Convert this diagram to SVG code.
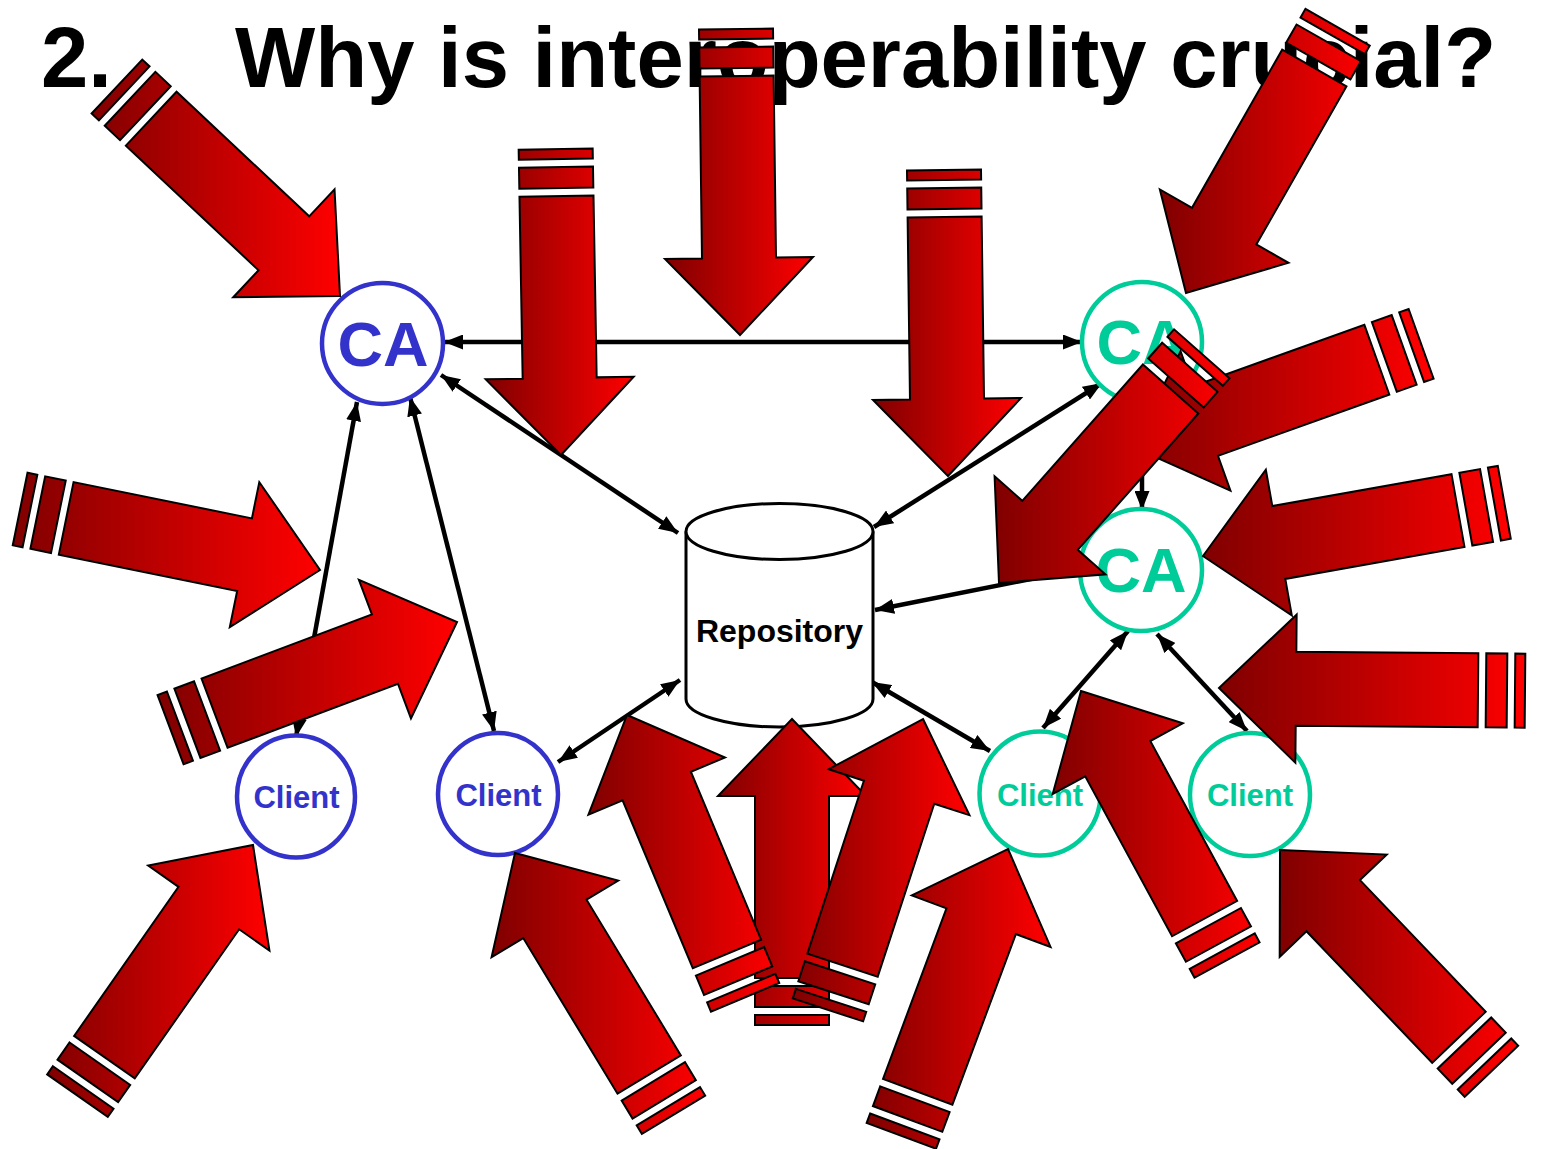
<svg xmlns="http://www.w3.org/2000/svg" xmlns:xlink="http://www.w3.org/1999/xlink" width="1541" height="1149" viewBox="0 0 1541 1149">
<style>
.title{font-family:"Liberation Sans",Arial,sans-serif;font-weight:bold;font-size:85px;fill:#000}
.ca{font-family:"Liberation Sans",Arial,sans-serif;font-weight:bold;font-size:63px;text-anchor:middle}
.cl{font-family:"Liberation Sans",Arial,sans-serif;font-weight:bold;font-size:31px;text-anchor:middle}
.repo{font-family:"Liberation Sans",Arial,sans-serif;font-weight:bold;font-size:32px;text-anchor:middle;fill:#000}
.blue{stroke:#3333cc;fill:#fff;stroke-width:4.5}
.green{stroke:#00cc99;fill:#fff;stroke-width:4.5}
.tblue{fill:#3333cc}
.tgreen{fill:#00cc99}
.sa{stroke:#000;stroke-width:2;stroke-linejoin:miter}
.con line{stroke:#000;stroke-width:4.5;fill:none}
</style>
<defs>
<marker id="ah" viewBox="0 0 19 15" refX="19" refY="7.5" markerWidth="19" markerHeight="15" markerUnits="userSpaceOnUse" orient="auto-start-reverse">
<path d="M0 0 L19 7.5 L0 15 Z" fill="#000"/>
</marker>
<path id="sarrow" class="sa" d="M0 0 L-77 74 L-77 37 L-259 37 L-259 -37 L-77 -37 L-77 -74 Z M-267 -37 L-267 37 L-288 37 L-288 -37 Z M-296 -37 L-296 37 L-306 37 L-306 -37 Z"/>
<linearGradient id="rg"><stop offset="0" stop-color="#800000"/><stop offset="1" stop-color="#ff0000"/></linearGradient>
<linearGradient id="g1" xlink:href="#rg" gradientUnits="userSpaceOnUse" x1="91" y1="0" x2="340" y2="0" gradientTransform="rotate(-43.2) translate(-340 -296)"/>
<linearGradient id="g2" xlink:href="#rg" gradientUnits="userSpaceOnUse" x1="665" y1="0" x2="813" y2="0" gradientTransform="rotate(-89.25) translate(-740 -335)"/>
<linearGradient id="g3" xlink:href="#rg" gradientUnits="userSpaceOnUse" x1="486" y1="0" x2="634" y2="0" gradientTransform="rotate(-89) translate(-561 -455)"/>
<linearGradient id="g4" xlink:href="#rg" gradientUnits="userSpaceOnUse" x1="873" y1="0" x2="1021" y2="0" gradientTransform="rotate(-89.25) translate(-948 -476)"/>
<linearGradient id="g5" xlink:href="#rg" gradientUnits="userSpaceOnUse" x1="1160" y1="0" x2="1370" y2="0" gradientTransform="rotate(-119.7) translate(-1186 -293)"/>
<linearGradient id="g6" xlink:href="#rg" gradientUnits="userSpaceOnUse" x1="1133" y1="0" x2="1433" y2="0" gradientTransform="rotate(-160.3) translate(-1133 -447)"/>
<linearGradient id="g7" xlink:href="#rg" gradientUnits="userSpaceOnUse" x1="995" y1="0" x2="1230" y2="0" gradientTransform="rotate(-131.5) translate(-999 -583)"/>
<linearGradient id="g8" xlink:href="#rg" gradientUnits="userSpaceOnUse" x1="1203" y1="0" x2="1511" y2="0" gradientTransform="rotate(-169.9) translate(-1203 -556)"/>
<linearGradient id="g9" xlink:href="#rg" gradientUnits="userSpaceOnUse" x1="1219" y1="0" x2="1525" y2="0" gradientTransform="rotate(-180.5) translate(-1219 -688)"/>
<linearGradient id="g10" xlink:href="#rg" gradientUnits="userSpaceOnUse" x1="13" y1="0" x2="320" y2="0" gradientTransform="rotate(-11.5) translate(-320 -570)"/>
<linearGradient id="g11" xlink:href="#rg" gradientUnits="userSpaceOnUse" x1="158" y1="0" x2="457" y2="0" gradientTransform="rotate(20.6) translate(-457 -622)"/>
<linearGradient id="g12" xlink:href="#rg" gradientUnits="userSpaceOnUse" x1="47" y1="0" x2="269" y2="0" gradientTransform="rotate(55) translate(-253 -845)"/>
<linearGradient id="g13" xlink:href="#rg" gradientUnits="userSpaceOnUse" x1="492" y1="0" x2="705" y2="0" gradientTransform="rotate(121.2) translate(-515 -853)"/>
<linearGradient id="g14" xlink:href="#rg" gradientUnits="userSpaceOnUse" x1="588" y1="0" x2="779" y2="0" gradientTransform="rotate(112.7) translate(-627 -715)"/>
<linearGradient id="g15" xlink:href="#rg" gradientUnits="userSpaceOnUse" x1="718" y1="0" x2="866" y2="0" gradientTransform="rotate(90) translate(-792 -719)"/>
<linearGradient id="g16" xlink:href="#rg" gradientUnits="userSpaceOnUse" x1="793" y1="0" x2="969" y2="0" gradientTransform="rotate(71.9) translate(-923 -719)"/>
<linearGradient id="g17" xlink:href="#rg" gradientUnits="userSpaceOnUse" x1="867" y1="0" x2="1051" y2="0" gradientTransform="rotate(69.6) translate(-1008 -849)"/>
<linearGradient id="g18" xlink:href="#rg" gradientUnits="userSpaceOnUse" x1="1055" y1="0" x2="1262" y2="0" gradientTransform="rotate(118.5) translate(-1083 -690)"/>
<linearGradient id="g19" xlink:href="#rg" gradientUnits="userSpaceOnUse" x1="1280" y1="0" x2="1518" y2="0" gradientTransform="rotate(133.7) translate(-1280 -850)"/>
</defs>
<rect width="1541" height="1149" fill="#fff"/>
<text class="title"><tspan x="41" y="87">2.</tspan><tspan x="235" y="87">Why is interoperability crucial?</tspan></text>

<g id="connectors" class="con">
<line x1="444" y1="342" x2="1082" y2="342" marker-start="url(#ah)" marker-end="url(#ah)"/>
<line x1="441" y1="375" x2="678" y2="533" marker-start="url(#ah)" marker-end="url(#ah)"/>
<line x1="1102" y1="383" x2="874" y2="527" marker-start="url(#ah)" marker-end="url(#ah)"/>
<line x1="1142" y1="404" x2="1142" y2="510" marker-end="url(#ah)"/>
<line x1="1081" y1="569" x2="875" y2="610" marker-end="url(#ah)"/>
<line x1="357" y1="402" x2="296" y2="737" marker-start="url(#ah)" marker-end="url(#ah)"/>
<line x1="410" y1="397" x2="494" y2="731" marker-start="url(#ah)" marker-end="url(#ah)"/>
<line x1="558" y1="762" x2="680" y2="680" marker-start="url(#ah)" marker-end="url(#ah)"/>
<line x1="872" y1="682" x2="990" y2="751" marker-start="url(#ah)" marker-end="url(#ah)"/>
<line x1="1128" y1="631" x2="1043" y2="728" marker-start="url(#ah)" marker-end="url(#ah)"/>
<line x1="1157" y1="634" x2="1247" y2="731" marker-start="url(#ah)" marker-end="url(#ah)"/>
</g>

<g id="ca1"><circle class="blue" cx="382.5" cy="343.5" r="60.5"/><text class="ca tblue" x="383" y="366">CA</text></g>
<g id="ca2"><circle class="green" cx="1142" cy="342" r="60"/><text class="ca tgreen" x="1142" y="364">CA</text></g>
<g id="ca3"><circle class="green" cx="1141" cy="570" r="61"/><text class="ca tgreen" x="1141" y="592">CA</text></g>
<g id="client1"><ellipse class="blue" cx="296" cy="796.5" rx="59" ry="61"/><text class="cl tblue" x="296.5" y="808">Client</text></g>
<g id="client2"><ellipse class="blue" cx="498" cy="794" rx="60" ry="61"/><text class="cl tblue" x="498.5" y="806">Client</text></g>
<g id="client3"><ellipse class="green" cx="1040" cy="793.5" rx="60.5" ry="62"/><text class="cl tgreen" x="1040" y="806">Client</text></g>
<g id="client4"><ellipse class="green" cx="1250" cy="794.5" rx="60" ry="61.5"/><text class="cl tgreen" x="1250" y="806">Client</text></g>
<g id="repository">
<path d="M686 531.5 V699 A93.5 28 0 0 0 873 699 V531.5" fill="#fff" stroke="#000" stroke-width="3"/>
<ellipse cx="779.5" cy="531.5" rx="93.5" ry="28" fill="#fff" stroke="#000" stroke-width="3"/>
<text class="repo" x="779.5" y="642">Repository</text>
</g>

<g id="striped-arrows">
<use id="arrow-1" xlink:href="#sarrow" transform="translate(340 296) rotate(43.2)" fill="url(#g1)"/>
<use id="arrow-2" xlink:href="#sarrow" transform="translate(740 335) rotate(89.25)" fill="url(#g2)"/>
<use id="arrow-3" xlink:href="#sarrow" transform="translate(561 455) rotate(89)" fill="url(#g3)"/>
<use id="arrow-4" xlink:href="#sarrow" transform="translate(948 476) rotate(89.25)" fill="url(#g4)"/>
<use id="arrow-5" xlink:href="#sarrow" transform="translate(1186 293) rotate(119.7)" fill="url(#g5)"/>
<use id="arrow-6" xlink:href="#sarrow" transform="translate(1133 447) rotate(160.3)" fill="url(#g6)"/>
<use id="arrow-7" xlink:href="#sarrow" transform="translate(999 583) rotate(131.5)" fill="url(#g7)"/>
<use id="arrow-8" xlink:href="#sarrow" transform="translate(1203 556) rotate(169.9)" fill="url(#g8)"/>
<use id="arrow-9" xlink:href="#sarrow" transform="translate(1219 688) rotate(180.5)" fill="url(#g9)"/>
<use id="arrow-10" xlink:href="#sarrow" transform="translate(320 570) rotate(11.5)" fill="url(#g10)"/>
<use id="arrow-11" xlink:href="#sarrow" transform="translate(457 622) rotate(-20.6)" fill="url(#g11)"/>
<use id="arrow-12" xlink:href="#sarrow" transform="translate(253 845) rotate(-55)" fill="url(#g12)"/>
<use id="arrow-13" xlink:href="#sarrow" transform="translate(515 853) rotate(-121.2)" fill="url(#g13)"/>
<use id="arrow-15" xlink:href="#sarrow" transform="translate(792 719) rotate(-90)" fill="url(#g15)"/>
<use id="arrow-14" xlink:href="#sarrow" transform="translate(627 715) rotate(-112.7)" fill="url(#g14)"/>
<use id="arrow-16" xlink:href="#sarrow" transform="translate(923 719) rotate(-71.9)" fill="url(#g16)"/>
<use id="arrow-17" xlink:href="#sarrow" transform="translate(1008 849) rotate(-69.6)" fill="url(#g17)"/>
<use id="arrow-18" xlink:href="#sarrow" transform="translate(1081 691) rotate(-118.5)" fill="url(#g18)"/>
<use id="arrow-19" xlink:href="#sarrow" transform="translate(1280 850) rotate(-133.7)" fill="url(#g19)"/>
</g>
</svg>
